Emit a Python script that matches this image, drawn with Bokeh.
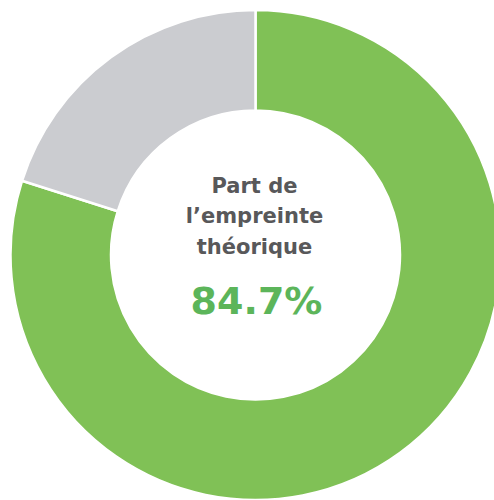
import math
from bokeh.plotting import figure
from bokeh.models import ColumnDataSource
from bokeh.core.properties import value
from bokeh.embed import file_html
from bokeh.resources import INLINE

# ---- data ----
segments = ["Empreinte théorique", "Reste"]
shares = [79.9, 20.1]
colors = ["#80c156", "#cbccd0"]
center_lines = ["Part de", "l’empreinte", "théorique"]
headline = "84.7%"

W, H = 494, 500
p = figure(width=W, height=H, x_range=(0, W), y_range=(0, H),
           output_backend="svg", toolbar_location=None, min_border=0,
           background_fill_color="white", border_fill_color="white")
p.axis.visible = False
p.grid.visible = False
p.outline_line_color = None

cx, cy = 255, 245.5
total = sum(shares)
starts, ends = [], []
cum = 0.0
for s in shares:
    starts.append(math.pi / 2 - 2 * math.pi * cum / total)
    cum += s
    ends.append(math.pi / 2 - 2 * math.pi * cum / total)

src = ColumnDataSource(dict(seg=segments, share=shares, color=colors,
                            start=starts, end=ends))
p.annular_wedge(x=cx, y=cy, inner_radius=144.5, outer_radius=245,
                start_angle="start", end_angle="end", direction="clock",
                fill_color="color", line_color="white", line_width=2.5,
                source=src)

ys = [314.3, 284.3, 253.5]
tsrc = ColumnDataSource(dict(x=[254] * len(center_lines), y=ys, t=center_lines))
p.text(x="x", y="y", text="t", source=tsrc, text_align="center",
       text_baseline="alphabetic", text_font=value("DejaVu Sans"),
       text_font_style="bold", text_font_size="21px", text_color="#58585a")

p.text(x=[256], y=[200], text=[headline], text_align="center",
       text_baseline="alphabetic", text_font=value("DejaVu Sans"),
       text_font_style="bold", text_font_size="38px", text_color="#5cb55a")

open("out.html", "w").write(file_html(p, INLINE))
